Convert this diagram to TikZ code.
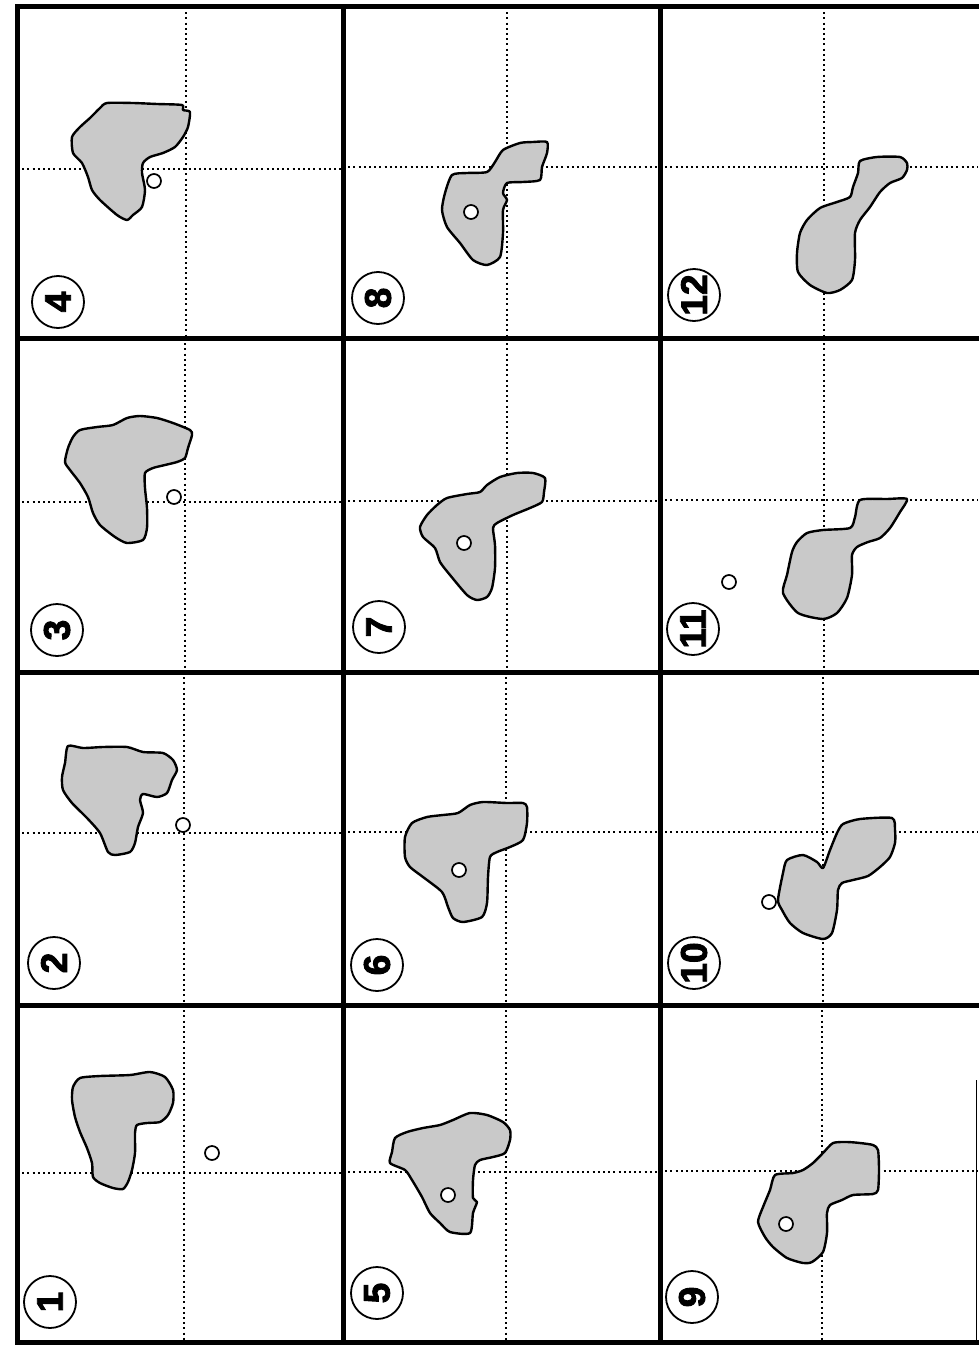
\documentclass[tikz,border=0pt]{standalone}
\usepackage{fontspec}
\setsansfont{Liberation Sans}
\newfontfamily\heavyfont{Liberation Sans}[FakeBold=2.5]
\begin{document}
\begin{tikzpicture}[x=1pt,y=-1pt,
  frame/.style={line width=5pt,line cap=rect},
  guide/.style={line width=2pt,dash pattern=on 2pt off 3.2pt},
  blob/.style={draw,line width=2.4pt,fill=black!21,line join=round},
  hole/.style={circle,draw,line width=1.7pt,fill=white,minimum size=14pt,inner sep=0pt},
  numlabel/.style={circle,draw,line width=1.8pt,fill=white,minimum size=52pt,inner sep=0pt,
    font=\fontsize{37}{37}\selectfont\heavyfont\bfseries,rotate=90}]
\useasboundingbox (0,0) rectangle (978,1346);
\fill[white] (0,0) rectangle (978,1346);

% ---- dotted guide lines ----
% column 1
\draw[guide] (184,1005) -- (184,1342); \draw[guide] (17,1173) -- (343,1173);
\draw[guide] (184,672) -- (184,1005);  \draw[guide] (17,833) -- (343,833);
\draw[guide] (185,338) -- (185,672);   \draw[guide] (17,502) -- (343,502);
\draw[guide] (186,7) -- (186,338);     \draw[guide] (17,169) -- (343,169);
% column 2
\draw[guide] (506,1005) -- (506,1342); \draw[guide] (343,1172) -- (660,1172);
\draw[guide] (506,672) -- (506,1005);  \draw[guide] (343,832) -- (660,832);
\draw[guide] (507,338) -- (507,672);   \draw[guide] (343,501) -- (660,501);
\draw[guide] (507,7) -- (507,338);     \draw[guide] (343,167) -- (660,167);
% column 3
\draw[guide] (822,1005) -- (822,1342); \draw[guide] (660,1171) -- (978,1171);
\draw[guide] (823,672) -- (823,1005);  \draw[guide] (660,832) -- (978,832);
\draw[guide] (824,338) -- (824,672);   \draw[guide] (660,500) -- (978,500);
\draw[guide] (824,7) -- (824,338);     \draw[guide] (660,167) -- (978,167);

% ---- blobs ----
% 1
\draw[blob] plot[smooth cycle,tension=0.4] coordinates {(80,1078) (100,1076) (130,1075) (150,1072) (165,1077) (173,1090) (173,1103) (168,1115) (160,1122) (147,1123) (137,1125) (135,1133) (135,1153) (132,1170) (128,1182) (123,1189) (113,1188) (100,1183) (93,1177) (92,1163) (87,1148) (80,1132) (75,1117) (72,1100) (73,1087)};
% 2
\draw[blob] plot[smooth cycle,tension=0.4] coordinates {(68,746) (83,748) (103,747) (127,747) (143,752) (163,753) (173,760) (177,770) (172,780) (167,793) (157,797) (143,794) (140,800) (143,813) (138,827) (135,843) (130,852) (115,855) (108,852) (100,833) (87,818) (72,803) (63,790) (62,777) (65,763)};
% 3
\draw[blob] plot[smooth cycle,tension=0.4] coordinates {(80,430) (97,427) (113,425) (127,418) (140,416) (157,418) (173,423) (190,430) (192,435) (188,448) (185,458) (177,462) (165,465) (153,468) (145,473) (145,488) (147,508) (147,528) (143,540) (127,543) (115,537) (100,525) (93,513) (88,497) (80,483) (70,470) (65,462) (68,448) (73,437)};
% 4
\draw[blob] plot[smooth cycle,tension=0.4] coordinates {(107,103) (133,103) (157,104) (182,105) (183,110) (190,112) (188,127) (183,137) (175,147) (163,153) (150,157) (143,163) (142,173) (145,190) (142,207) (133,215) (127,220) (117,215) (100,200) (92,190) (88,177) (82,163) (73,153) (72,137) (80,127) (90,118) (100,108)};
% 5
\draw[blob] plot[smooth cycle,tension=0.4] coordinates {(395,1138) (407,1132) (423,1128) (440,1125) (453,1120) (470,1113) (487,1115) (503,1122) (510,1130) (510,1140) (505,1153) (493,1157) (480,1160) (475,1165) (473,1180) (473,1198) (477,1202) (473,1213) (470,1233) (450,1232) (440,1223) (430,1213) (422,1197) (412,1180) (405,1170) (390,1163) (392,1152)};
% 6
\draw[blob] plot[smooth cycle,tension=0.4] coordinates {(412,823) (427,817) (443,815) (458,813) (470,805) (483,802) (507,803) (523,803) (527,807) (527,823) (523,840) (510,847) (497,852) (490,857) (488,877) (487,903) (482,917) (463,922) (453,918) (448,907) (442,892) (423,877) (410,867) (405,857) (405,837)};
% 7
\draw[blob] plot[smooth cycle,tension=0.4] coordinates {(447,498) (467,494) (480,492) (487,485) (500,477) (517,473) (533,473) (545,478) (544,492) (542,502) (530,508) (513,515) (497,523) (493,528) (495,545) (495,568) (492,588) (487,597) (477,600) (467,595) (450,575) (440,562) (435,548) (423,537) (420,527) (427,515) (437,505)};
% 8
\draw[blob] plot[smooth cycle,tension=0.4] coordinates {(452,175) (467,173) (487,172) (495,162) (503,150) (520,143) (533,142) (547,142) (547,153) (542,167) (540,180) (523,182) (507,183) (503,193) (507,200) (503,210) (503,233) (500,257) (487,265) (473,260) (460,243) (447,227) (442,210) (445,193)};
% 9
\draw[blob] plot[smooth cycle,tension=0.4] coordinates {(775,1175) (793,1173) (803,1170) (813,1163) (823,1153) (833,1143) (847,1142) (860,1143) (873,1145) (878,1150) (879,1170) (878,1190) (873,1194) (853,1195) (842,1200) (830,1205) (827,1213) (827,1233) (823,1252) (812,1262) (803,1263) (787,1258) (773,1247) (765,1237) (758,1222) (763,1207) (770,1190)};
% 10
\draw[blob] plot[smooth cycle,tension=0.4] coordinates {(787,860) (803,855) (817,862) (823,868) (830,850) (837,833) (843,824) (860,819) (892,818) (895,830) (895,843) (890,857) (880,867) (868,876) (853,880) (842,883) (838,890) (837,910) (832,933) (823,939) (803,933) (790,923) (782,910) (778,900) (783,873)};
% 11
\draw[blob] plot[smooth cycle,tension=0.4] coordinates {(860,500) (887,499) (907,499) (900,512) (890,528) (880,538) (868,542) (857,547) (852,555) (852,575) (847,598) (837,613) (823,619) (798,613) (783,593) (787,575) (792,552) (797,542) (807,533) (823,530) (850,528) (855,517)};
% 12
\draw[blob] plot[smooth cycle,tension=0.4] coordinates {(860,161) (877,157) (900,157) (907,163) (907,170) (902,178) (890,183) (880,192) (870,207) (860,220) (855,233) (855,260) (852,280) (840,290) (827,293) (810,285) (798,272) (797,253) (800,233) (807,220) (820,208) (837,202) (850,197) (853,187) (858,173)};

% ---- small circles ----
\node[hole] (d1) at (212,1153) {};
\node[hole] (d2) at (183,825) {};
\node[hole] (d3) at (174,497) {};
\node[hole] (d4) at (154,181) {};
\node[hole] (d5) at (448,1195) {};
\node[hole] (d6) at (459,870) {};
\node[hole] (d7) at (464,543) {};
\node[hole] (d8) at (471,212) {};
\node[hole] (d9) at (786,1224) {};
\node[hole] (d10) at (769,902) {};
\node[hole] (d11) at (729,582) {};

% ---- frame ----
\draw[frame] (17,7) -- (978,7);
\draw[frame] (17,1342) -- (978,1342);
\draw[frame] (17,7) -- (17,1342);
\draw[frame] (343,7) -- (343,1342);
\draw[frame] (660,7) -- (660,1342);
\draw[frame] (17,338) -- (978,338);
\draw[frame] (17,672) -- (978,672);
\draw[frame] (17,1005) -- (978,1005);
\draw[line width=1pt] (976,1080) -- (976,1342);

% ---- panel numbers ----
\node[numlabel] (l1) at (50,1302) {1};
\node[numlabel] (l2) at (54,963) {2};
\node[numlabel] (l3) at (57,630) {3};
\node[numlabel] (l4) at (58,302) {4};
\node[numlabel] (l5) at (377,1293) {5};
\node[numlabel] (l6) at (377,965) {6};
\node[numlabel] (l7) at (379,627) {7};
\node[numlabel] (l8) at (378,298) {8};
\node[numlabel] (l9) at (692,1297) {9};
\node[numlabel] (l10) at (694,963) {10};
\node[numlabel] (l11) at (693,629) {11};
\node[numlabel] (l12) at (694,295) {12};
\end{tikzpicture}
\end{document}
